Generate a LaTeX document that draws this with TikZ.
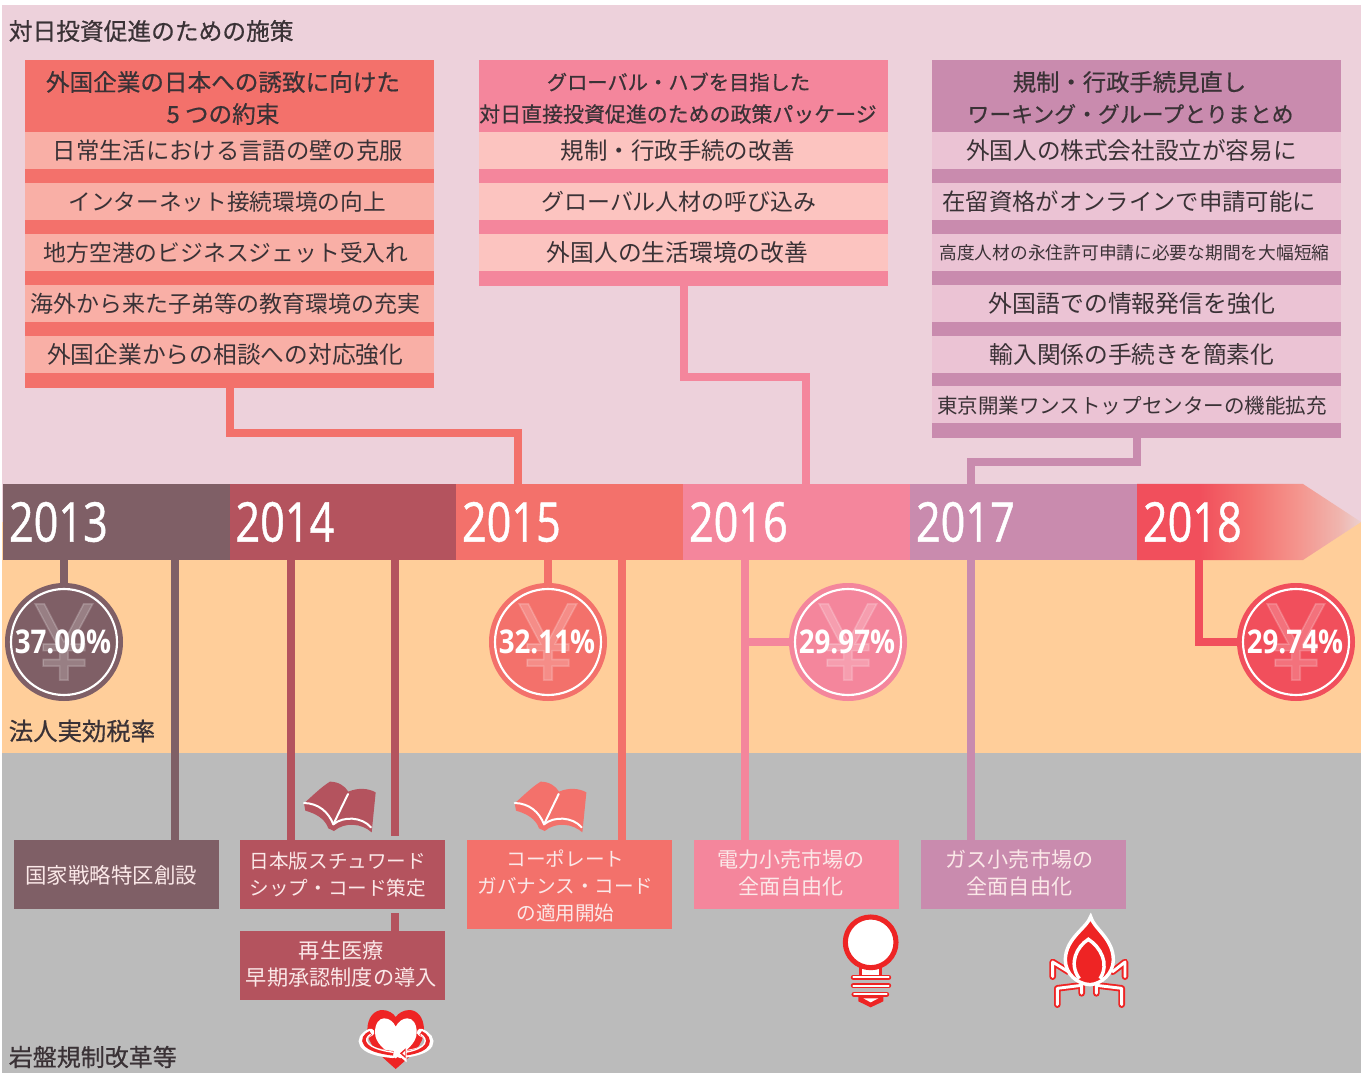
\documentclass[tikz,border=0pt]{standalone}
\usepackage{fontspec}
\setmainfont{Noto Sans CJK JP}
\newfontfamily\headfont[FakeBold=0.6]{Noto Sans CJK JP}
\newfontfamily\yearfont[FakeBold=1.0]{Open Sans}
\newfontfamily\yenfont[FakeBold=1.5]{Open Sans}
\newfontfamily\pctfont{Open Sans}
\definecolor{bgpink}{HTML}{EDD1DB}
\definecolor{bgpeach}{HTML}{FFCE9A}
\definecolor{bggrey}{HTML}{BBBBBB}
\definecolor{cA}{HTML}{7F5F66}
\definecolor{cB}{HTML}{B4535E}
\definecolor{cC}{HTML}{F3716B}
\definecolor{cD}{HTML}{F4869C}
\definecolor{cE}{HTML}{C98BAE}
\definecolor{cF}{HTML}{F14F5C}
\definecolor{lC}{HTML}{F9AFA6}
\definecolor{lD}{HTML}{FCC4C0}
\definecolor{lE}{HTML}{EBC3D4}
\definecolor{ink}{HTML}{3A3236}
\definecolor{paleink}{HTML}{FBE8E8}
\definecolor{iconred}{HTML}{EE2424}
\definecolor{fadeA}{HTML}{F4958E}
\definecolor{fadeB}{HTML}{F0B5AE}
\definecolor{fadeC}{HTML}{EBD0CF}
\definecolor{fadeM}{HTML}{F3706E}
\pgfdeclarehorizontalshading{yrfade}{100bp}{color(0bp)=(cF); color(39bp)=(cF); color(50bp)=(fadeM); color(61bp)=(fadeA); color(70bp)=(fadeB); color(75bp)=(fadeC); color(100bp)=(fadeC)}
\tikzset{
  fs/.style={font=\fontsize{#1}{#1}\selectfont},
  panel/.style={inner sep=0pt, outer sep=0pt, minimum width=306.75pt, anchor=north west},
  rowbox/.style={inner sep=0pt, outer sep=0pt, minimum width=306.75pt, minimum height=27.75pt},
  rowtext/.style={inner sep=0pt, text=ink, text height=15.2pt, text depth=1pt},
  headbox/.style={inner sep=0pt, outer sep=0pt, text=ink, align=center},
  caption/.style={inner sep=0pt, anchor=west, text=ink},
  yearbar/.style={inner xsep=4.5pt, inner ysep=0pt, outer sep=0pt, minimum height=57pt, text width=161.25pt, align=left, text=white, anchor=west},
  lowbox/.style={inner sep=0pt, outer sep=0pt, minimum width=153.75pt, anchor=north west},
  lowtext/.style={inner sep=0pt, text=paleink, align=center, font=\fontsize{14.7}{20.25}\selectfont},
  disc/.style={circle, inner sep=0pt, outer sep=0pt, minimum size=88.5pt},
  ringline/.style={draw=white, line width=1.6pt},
  yenmark/.style={inner sep=0pt, text=white, text opacity=0.2},
  pct/.style={inner sep=0pt, text=white, xshift=-0.8pt},
  conn/.style={line width=6pt, line join=miter},
}
\newcommand{\yr}[1]{\raisebox{-0.7pt}{\scalebox{0.79}[1]{\fontsize{41}{41}\selectfont\yearfont #1}}}
\newcommand{\pc}[1]{\scalebox{0.85}[1]{\fontsize{24.5}{24.5}\selectfont\pctfont\bfseries #1}}
\newcommand{\yenmk}{\raisebox{-1pt}{\fontsize{80}{80}\selectfont\yenfont ¥}}
\begin{document}
\begin{tikzpicture}[x=0.75pt,y=-0.75pt]
\useasboundingbox (0,0) rectangle (1365,1073);
% background bands
\fill[bgpink] (2,5) rectangle (1361,522);
\fill[bgpeach] (2,522) rectangle (1361,753);
\fill[bggrey] (2,753) rectangle (1361,1073);
\node[caption,fs=17.8] (capA) at (8.5,31) {\headfont 対日投資促進のための施策};
\node[caption,fs=18.3] (capB) at (8.5,731) {\headfont 法人実効税率};
\node[caption,fs=18] (capC) at (8.5,1057) {\headfont 岩盤規制改革等};
% panels
\node[panel,fill=cC,minimum height=246pt] (panelL) at (25,60) {};
\node[panel,fill=cD,minimum height=169.5pt] (panelM) at (479,60) {};
\node[panel,fill=cE,minimum height=283.5pt] (panelR) at (932,60) {};
% left panel
\node[headbox,font=\headfont\fontsize{17.7}{24}\selectfont] (L0) at (223,98) {外国企業の日本への誘致に向けた\\5 つの約束};
\node[rowbox,fill=lC] (L1) at (229.5,150.5) {};
\node[rowbox,fill=lC] (L2) at (229.5,201.5) {};
\node[rowbox,fill=lC] (L3) at (229.5,252.5) {};
\node[rowbox,fill=lC] (L4) at (229.5,303.5) {};
\node[rowbox,fill=lC] (L5) at (229.5,354.5) {};
\node[rowtext,fs=17.5,xshift=-1.2pt] (L1t) at (L1) {日常生活における言語の壁の克服};
\node[rowtext,fs=17.0,xshift=-1.8pt] (L2t) at (L2) {インターネット接続環境の向上};
\node[rowtext,fs=17.1,xshift=-2.6pt] (L3t) at (L3) {地方空港のビジネスジェット受入れ};
\node[rowtext,fs=17.2,xshift=-3pt] (L4t) at (L4) {海外から来た子弟等の教育環境の充実};
\node[rowtext,fs=17.8,xshift=-3.2pt] (L5t) at (L5) {外国企業からの相談への対応強化};
% middle panel
\node[headbox,font=\headfont\fontsize{15.2}{24}\selectfont] (M0a) at (678.5,82) {グローバル・ハブを目指した};
\node[headbox,font=\headfont\fontsize{15.7}{24}\selectfont] (M0b) at (678,114) {対日直接投資促進のための政策パッケージ};
\node[rowbox,fill=lD] (M1) at (683.5,150.5) {};
\node[rowbox,fill=lD] (M2) at (683.5,201.5) {};
\node[rowbox,fill=lD] (M3) at (683.5,252.5) {};
\node[rowtext,fs=17.6,xshift=-4.1pt] (M1t) at (M1) {規制・行政手続の改善};
\node[rowtext,fs=17.2,xshift=-3.4pt] (M2t) at (M2) {グローバル人材の呼び込み};
\node[rowtext,fs=17.8,xshift=-4.5pt] (M3t) at (M3) {外国人の生活環境の改善};
% right panel
\node[headbox,font=\headfont\fontsize{17.5}{24}\selectfont] (R0a) at (1129.5,82) {規制・行政手続見直し};
\node[headbox,font=\headfont\fontsize{16.4}{24}\selectfont] (R0b) at (1130.5,114) {ワーキング・グループとりまとめ};
\node[rowbox,fill=lE] (R1) at (1136.5,150.5) {};
\node[rowbox,fill=lE] (R2) at (1136.5,201.5) {};
\node[rowbox,fill=lE] (R3) at (1136.5,252.5) {};
\node[rowbox,fill=lE] (R4) at (1136.5,303.5) {};
\node[rowbox,fill=lE] (R5) at (1136.5,354.5) {};
\node[rowbox,fill=lE] (R6) at (1136.5,404.5) {};
\node[rowtext,fs=17.7,xshift=-3.7pt] (R1t) at (R1) {外国人の株式会社設立が容易に};
\node[rowtext,fs=17.5,xshift=-5.6pt] (R2t) at (R2) {在留資格がオンラインで申請可能に};
\node[rowtext,fs=13.3,text height=11.2pt,xshift=-1.5pt] (R3t) at (R3) {高度人材の永住許可申請に必要な期間を大幅短縮};
\node[rowtext,fs=17.9,xshift=-3.4pt] (R4t) at (R4) {外国語での情報発信を強化};
\node[rowtext,fs=17.8,xshift=-3.4pt] (R5t) at (R5) {輸入関係の手続きを簡素化};
\node[rowtext,fs=15.4,xshift=-3.4pt] (R6t) at (R6) {東京開業ワンストップセンターの機能拡充};
% timeline
\path[shading=yrfade] (1137,484) -- (1303,484) -- (1361,522) -- (1303,560) -- (1137,560) -- cycle;
\node[yearbar,fill=cA] (yr13) at (3,522) {\yr{2013}};
\node[yearbar,fill=cB] (yr14) at (229.5,522) {\yr{2014}};
\node[yearbar,fill=cC] (yr15) at (456,522) {\yr{2015}};
\node[yearbar,fill=cD] (yr16) at (683,522) {\yr{2016}};
\node[yearbar,fill=cE] (yr17) at (910,522) {\yr{2017}};
\node[yearbar] (yr18) at (1137,522) {\yr{2018}};
% tax discs
\node[disc,fill=cA] (d13) at (64,642) {};
\node[disc,fill=cC] (d15) at (548,642) {};
\node[disc,fill=cD] (d16) at (848,642) {};
\node[disc,fill=cF] (d18) at (1296,642) {};
\foreach \d in {d13,d15,d16,d18}{
  \draw[ringline] (\d) circle (53);
  \node[yenmark] at (\d) {\yenmk};
}
\node[pct] (p13) at (d13) {\pc{37.00\%}};
\node[pct] (p15) at (d15) {\pc{32.11\%}};
\node[pct] (p16) at (d16) {\pc{29.97\%}};
\node[pct] (p18) at (d18) {\pc{29.74\%}};
% lower boxes
\node[lowbox,fill=cA,minimum height=51.75pt] (b13) at (14,840) {};
\node[lowbox,fill=cB,minimum height=51.75pt] (b14a) at (240,840) {};
\node[lowbox,fill=cB,minimum height=51.75pt] (b14b) at (240,931) {};
\node[lowbox,fill=cC,minimum height=66.75pt] (b15) at (467,840) {};
\node[lowbox,fill=cD,minimum height=51.75pt] (b16) at (694,840) {};
\node[lowbox,fill=cE,minimum height=51.75pt] (b17) at (921,840) {};
\node[lowtext,font=\fontsize{16.1}{20.25}\selectfont,xshift=-4pt,yshift=-0.8pt] (b13t) at (b13) {国家戦略特区創設};
\node[lowtext,xshift=-3.4pt] (b14at) at (b14a) {日本版スチュワード\\シップ・コード策定};
\node[lowtext,font=\fontsize{15.9}{20.25}\selectfont,xshift=-0.9pt,yshift=0.8pt] (b14bt) at (b14b) {再生医療\\早期承認制度の導入};
\node[lowtext,xshift=-3pt,yshift=-1.5pt] (b15t) at (b15) {コーポレート\\ガバナンス・コード\\の適用開始};
\node[lowtext,font=\fontsize{15.8}{20.25}\selectfont,xshift=-4.1pt,yshift=1.5pt] (b16t) at (b16) {電力小売市場の\\全面自由化};
\node[lowtext,font=\fontsize{15.8}{20.25}\selectfont,xshift=-3pt,yshift=1.5pt] (b17t) at (b17) {ガス小売市場の\\全面自由化};
% connectors
\coordinate (jL) at (518,433);
\coordinate (jM) at (806,377);
\coordinate (jR) at (971,462);
\draw[conn,cC] (panelL.south) |- (jL) -- (jL |- yr15.north);
\draw[conn,cD] (panelM.south) |- (jM) -- (jM |- yr16.north);
\draw[conn,cE] (panelR.south) |- (jR) -- (jR |- yr17.north);
\coordinate (t13) at (175,560);
\coordinate (t14a) at (291,560);
\coordinate (t14b) at (395,560);
\coordinate (t14c) at (395,836);
\coordinate (t14d) at (395,913);
\coordinate (t15) at (622,560);
\coordinate (t16) at (745,560);
\coordinate (t16j) at (745,642);
\coordinate (t17) at (971,560);
\coordinate (t18) at (1199,560);
\draw[conn,cA] (yr13.south -| d13.north) -- (d13.north);
\draw[conn,cA] (t13) -- (t13 |- b13.north);
\draw[conn,cB] (t14a) -- (t14a |- b14a.north);
\draw[conn,cB] (t14b) -- (t14c);
\draw[conn,cB] (t14d) -- (t14d |- b14b.north);
\draw[conn,cC] (yr15.south -| d15.north) -- (d15.north);
\draw[conn,cC] (t15) -- (t15 |- b15.north);
\draw[conn,cD] (t16) -- (t16 |- b16.north);
\draw[conn,cD] (t16j) -- (d16.west);
\draw[conn,cE] (t17) -- (t17 |- b17.north);
\draw[conn,cF] (t18) |- (d18.west);
% book icons
\foreach \ox/\col in {230/cB,440.7/cC}{
\begin{scope}[shift={(\ox,760)},x=0.25pt,y=-0.25pt]
  \fill[\col] (222,130) .. controls (250,105) and (275,80) .. (300,65) .. controls (325,65) and (345,78) .. (355,95) .. controls (385,82) and (415,85) .. (437,97) -- (425,217) .. controls (395,190) and (345,185) .. (312,213) -- (295,205) .. controls (285,175) and (255,160) .. (226,152) -- cycle;
  \draw[white,line width=1.5pt,line cap=round,line join=round] (222,129) .. controls (265,130) and (295,155) .. (310,193) .. controls (340,168) and (395,170) .. (423,202);
  \draw[white,line width=1.5pt,line cap=round] (310,193) -- (354,102);
\end{scope}}
% heart icon
\begin{scope}[shift={(350,1005)},x=0.25pt,y=-0.25pt]
  \fill[iconred] (137,192) .. controls (90,150) and (52,120) .. (52,75) .. controls (52,35) and (75,15) .. (97,15) .. controls (115,15) and (130,25) .. (137,36) .. controls (145,25) and (160,15) .. (178,15) .. controls (200,15) and (222,35) .. (222,75) .. controls (222,120) and (185,150) .. (137,192) -- cycle;
  \fill[white] (137,160) .. controls (105,135) and (75,115) .. (75,82) .. controls (75,55) and (88,40) .. (102,40) .. controls (118,40) and (130,50) .. (137,65) .. controls (145,50) and (158,40) .. (172,40) .. controls (188,40) and (200,55) .. (200,82) .. controls (200,115) and (170,135) .. (137,160) -- cycle;
  \draw[white,line width=5.6pt,line cap=round] (62,82) .. controls (20,100) and (25,140) .. (130,148);
  \draw[white,line width=5.6pt,line cap=round] (212,82) .. controls (255,100) and (255,140) .. (150,148);
  \draw[iconred,line width=3.4pt] (62,84) .. controls (28,100) and (35,135) .. (130,145);
  \draw[iconred,line width=3.4pt] (212,84) .. controls (245,100) and (245,135) .. (165,145);
  \draw[white,line width=1pt] (62,88) .. controls (38,102) and (45,130) .. (130,142);
  \draw[white,line width=1pt] (212,88) .. controls (235,102) and (235,130) .. (165,142);
  \fill[white] (138,145) -- (170,118) -- (170,172) -- cycle;
  \fill[iconred] (150,145) -- (167,130) -- (167,160) -- cycle;
  \fill[white] (157,145) -- (165,138) -- (165,152) -- cycle;
\end{scope}
% bulb icon
\begin{scope}[shift={(820,900)},x=0.25pt,y=-0.25pt]
  \fill[iconred] (118,190) rectangle (186,232);
  \fill[white] (126,190) rectangle (178,226);
  \draw[iconred,line width=3.8pt,fill=white] (152,127) circle (76);
  \foreach \yy/\xa/\xb in {232/100/206,257/100/206,283/102/200}{
    \draw[iconred,line width=3.8pt,line cap=round] (\xa,\yy) -- (\xb,\yy);
    \draw[white,line width=1.3pt,line cap=round] (\xa,\yy) -- (\xb,\yy);
  }
  \fill[iconred] (115,290) -- (115,304) -- (152,322) -- (190,304) -- (190,290) -- cycle;
  \fill[white] (130,295) -- (175,295) -- (152,307) -- cycle;
\end{scope}
% flame icon
\begin{scope}[shift={(820,900)},x=0.25pt,y=-0.25pt]
  \draw[iconred,line width=5pt,line cap=round,line join=round] (745,215) -- (698,186) -- (698,230);
  \draw[white,line width=2.2pt,line cap=round,line join=round] (745,215) -- (698,186) -- (698,230);
  \draw[iconred,line width=5pt,line cap=round,line join=round] (878,215) -- (915,186) -- (915,230);
  \draw[white,line width=2.2pt,line cap=round,line join=round] (878,215) -- (915,186) -- (915,230);
  \draw[iconred,line width=5pt,line cap=round,line join=round] (785,280) -- (785,256) -- (712,265) -- (712,314);
  \draw[white,line width=2.2pt,line cap=round,line join=round] (785,280) -- (785,256) -- (712,265) -- (712,314);
  \draw[iconred,line width=5pt,line cap=round,line join=round] (829,280) -- (829,256) -- (905,265) -- (905,314);
  \draw[white,line width=2.2pt,line cap=round,line join=round] (829,280) -- (829,256) -- (905,265) -- (905,314);
  \draw[white,line width=2.6pt,fill=iconred] (812,50) .. controls (820,85) and (880,115) .. (880,180) .. controls (880,220) and (845,252) .. (810,254) .. controls (770,252) and (736,220) .. (736,180) .. controls (736,115) and (800,85) .. (812,50) -- cycle;
  \draw[white,line width=2.6pt] (778,236) .. controls (745,190) and (770,140) .. (805,118) .. controls (840,140) and (870,190) .. (840,236);
\end{scope}
\end{tikzpicture}
\end{document}
